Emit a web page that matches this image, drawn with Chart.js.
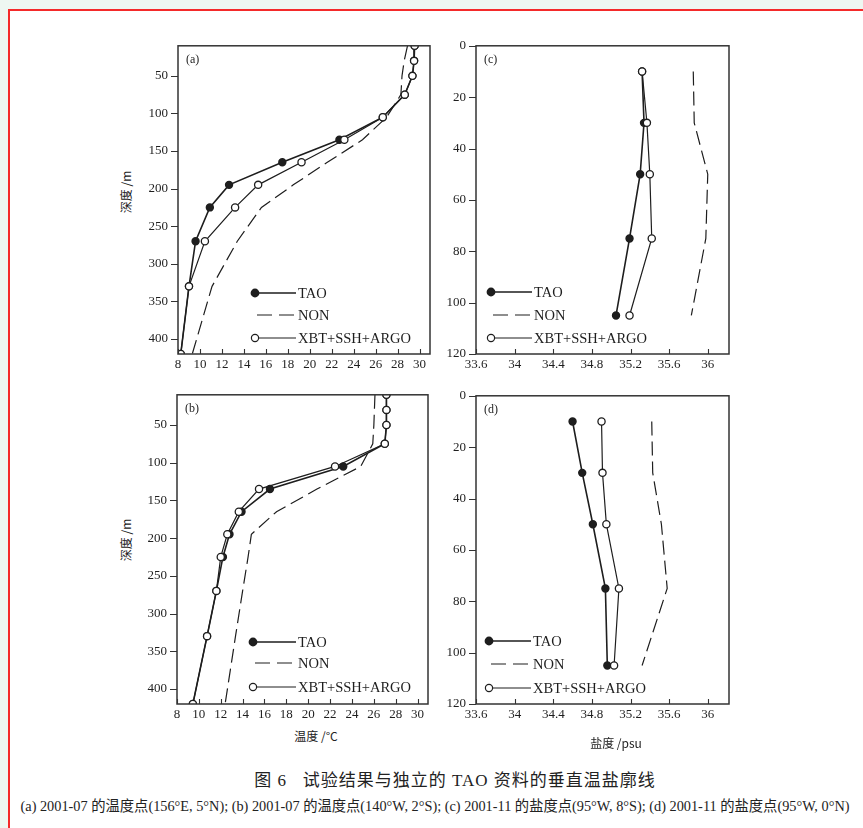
<!DOCTYPE html>
<html>
<head>
<meta charset="utf-8">
<script src="https://cdn.jsdelivr.net/npm/chart.js@4.4.1/dist/chart.umd.min.js"></script>
<style>
  body { margin:0; width:863px; height:828px; overflow:hidden; position:relative; background:#eef7f1;
         font-family:"Liberation Serif","Noto Sans CJK SC",serif; color:#222; }
  .page { position:absolute; left:8px; top:9px; width:900px; height:900px; background:#fff;
          border-left:2px solid #f42a2a; border-top:2px solid #f42a2a; }
  canvas { position:absolute; }
  .t { position:absolute; white-space:nowrap; }
  .ytitle { font-family:"Noto Sans CJK SC",sans-serif; font-size:12px; transform:translate(-50%,-50%) rotate(-90deg); }
  .xtitle { font-family:"Noto Sans CJK SC",sans-serif; font-size:12px; transform:translate(-50%,-50%); }
  .cap1 { left:455px; top:778px; transform:translate(-50%,-50%); font-size:17px; letter-spacing:1px; }
  .cap2 { left:435px; top:804px; transform:translate(-50%,-50%); font-size:14.3px; }
</style>
</head>
<body>
<div class="page"></div>
<canvas id="ca" width="302" height="348" style="left:138px;top:28px"></canvas>
<canvas id="cc" width="303" height="348" style="left:436px;top:28px"></canvas>
<canvas id="cb" width="301" height="349" style="left:137px;top:377px"></canvas>
<canvas id="cd" width="303" height="348" style="left:436px;top:378px"></canvas>

<div class="t ytitle" style="left:125px;top:192px">深度 /m</div>
<div class="t ytitle" style="left:125px;top:540px">深度 /m</div>
<div class="t xtitle" style="left:316px;top:735px">温度 /°C</div>
<div class="t xtitle" style="left:616px;top:742px">盐度 /psu</div>
<div class="t cap1">图 6&nbsp;&nbsp;&nbsp;试验结果与独立的 TAO 资料的垂直温盐廓线</div>
<div class="t cap2">(a) 2001-07 的温度点(156°E, 5°N); (b) 2001-07 的温度点(140°W, 2°S); (c) 2001-11 的盐度点(95°W, 8°S); (d) 2001-11 的盐度点(95°W, 0°N)</div>

<script>
// depth levels (m)
const depthT = [10, 30, 50, 75, 105, 135, 165, 195, 225, 270, 330, 420];
const depthS = [10, 30, 50, 75, 105];

// (a) temperature, 156E 5N
const taoA = [29.55, 29.5, 29.35, 28.65, 26.65, 22.7, 17.5, 12.65, 10.9, 9.6, 9.0, 8.25];
const nonA = [28.9, 28.6, 28.4, 28.3, 27.0, 24.8, 21.6, 18.5, 15.6, 13.4, 11.1, 9.3];
const xbtA = [29.55, 29.5, 29.35, 28.65, 26.65, 23.15, 19.25, 15.3, 13.2, 10.45, 9.0, 8.25];

// (b) temperature, 140W 2S
const taoB = [27.15, 27.15, 27.15, 27.0, 23.2, 16.5, 13.9, 12.8, 12.2, 11.6, 10.75, 9.45];
const nonB = [26.1, 26.05, 26.0, 25.9, 24.8, 20.8, 17.1, 14.8, 14.5, 14.0, 13.35, 12.4];
const xbtB = [27.15, 27.15, 27.15, 27.0, 22.45, 15.5, 13.65, 12.6, 12.0, 11.6, 10.75, 9.45];

// (c) salinity, 95W 8S
const taoC = [35.32, 35.34, 35.30, 35.19, 35.05];
const nonC = [35.85, 35.86, 36.0, 35.98, 35.83];
const xbtC = [35.32, 35.37, 35.40, 35.42, 35.19];

// (d) salinity, 95W 0N
const taoD = [34.60, 34.70, 34.81, 34.94, 34.96];
const nonD = [35.42, 35.43, 35.52, 35.58, 35.32];
const xbtD = [34.90, 34.91, 34.95, 35.08, 35.03];

// ticks
const tempTicks = [8, 10, 12, 14, 16, 18, 20, 22, 24, 26, 28, 30];
const tempLabels = ["8", "10", "12", "14", "16", "18", "20", "22", "24", "26", "28", "30"];
const saltTicks = [33.6, 34, 34.4, 34.8, 35.2, 35.6, 36];
const saltLabels = ["33.6", "34", "34.4", "34.8", "35.2", "35.6", "36"];
const depthTicksT = [50, 100, 150, 200, 250, 300, 350, 400];
const depthLabelsT = ["50", "100", "150", "200", "250", "300", "350", "400"];
const depthTicksS = [0, 20, 40, 60, 80, 100, 120];
const depthLabelsS = ["0", "20", "40", "60", "80", "100", "120"];

const seriesNames = ["TAO", "NON", "XBT+SSH+ARGO"];
const ink = "#1e1e1e";
const tickFont = { family: "Liberation Serif", size: 13 };

function pts(xs, ds) {
  return xs.map((v, i) => ({ x: v, y: ds[i] }));
}

// frame, ticks, panel tag, legend
const framePlugin = {
  id: "frame",
  afterDraw(chart, args, o) {
    const ctx = chart.ctx, a = chart.chartArea;
    const xs = chart.scales.x, ys = chart.scales.y;
    ctx.save();
    ctx.strokeStyle = "#333";
    ctx.lineWidth = 1.5;
    ctx.strokeRect(a.left, a.top, a.right - a.left, a.bottom - a.top);
    ctx.lineWidth = 1.1;
    ctx.beginPath();
    xs.ticks.forEach(t => {
      const px = Math.round(xs.getPixelForValue(t.value)) + 0.5;
      ctx.moveTo(px, a.bottom); ctx.lineTo(px, a.bottom - 5);
    });
    ys.ticks.forEach(t => {
      const py = Math.round(ys.getPixelForValue(t.value)) + 0.5;
      ctx.moveTo(a.left, py); ctx.lineTo(a.left - 7, py);
    });
    ctx.stroke();

    ctx.fillStyle = ink;
    ctx.font = "12px 'Liberation Serif'";
    ctx.textBaseline = "middle";
    ctx.fillText(o.tag, a.left + 8, a.top + 14);

    // legend
    const mx = a.left + o.mx, lx = a.left + o.tx - 2;
    ctx.font = "14.5px 'Liberation Serif'";
    seriesNames.forEach((name, i) => {
      const y = a.bottom + o.rows[i];
      ctx.strokeStyle = ink;
      ctx.lineWidth = i === 0 ? 1.6 : 1.2;
      ctx.setLineDash(i === 1 ? [15, 7] : []);
      ctx.beginPath();
      ctx.moveTo(i === 1 ? mx + 2 : mx, y); ctx.lineTo(lx, y);
      ctx.stroke();
      ctx.setLineDash([]);
      if (i !== 1) {
        ctx.beginPath();
        ctx.arc(mx, y, 3.6, 0, Math.PI * 2);
        ctx.fillStyle = i === 0 ? ink : "#fff";
        ctx.fill();
        ctx.stroke();
      }
      ctx.fillStyle = ink;
      ctx.fillText(name, a.left + o.tx, y + 1);
    });
    ctx.restore();
  }
};

function makePanel(id, tao, non, xbt, depths, xr, xt, xl, yr, yt, yl, leg) {
  new Chart(document.getElementById(id), {
    type: "scatter",
    data: {
      datasets: [
        { label: seriesNames[2], data: pts(xbt, depths), showLine: true, order: 0,
          borderColor: ink, borderWidth: 1.2, pointRadius: 3.6, pointBorderWidth: 1.3,
          pointBackgroundColor: "#fff", pointBorderColor: ink },
        { label: seriesNames[0], data: pts(tao, depths), showLine: true, order: 1,
          borderColor: ink, borderWidth: 1.6, pointRadius: 3.4,
          pointBackgroundColor: ink, pointBorderColor: ink },
        { label: seriesNames[1], data: pts(non, depths), showLine: true, order: 2,
          borderColor: ink, borderWidth: 1.2, borderDash: [14, 6], pointRadius: 0 }
      ]
    },
    options: {
      responsive: false,
      animation: false,
      events: [],
      layout: { padding: { left: 0, right: 10, top: 10, bottom: 0 }, autoPadding: false },
      plugins: { legend: { display: false }, tooltip: { enabled: false }, frame: leg },
      scales: {
        x: {
          type: "linear", min: xr[0], max: xr[1],
          afterBuildTicks: s => { s.ticks = xt.map(v => ({ value: v })); },
          afterFit: s => { s.height = 22; },
          grid: { display: false, drawTicks: false }, border: { display: false },
          ticks: { font: tickFont, color: ink, padding: 3, maxRotation: 0, autoSkip: false,
                   callback: (v, i) => xl[i] }
        },
        y: {
          type: "linear", reverse: true, min: yr[0], max: yr[1],
          afterBuildTicks: s => { s.ticks = yt.map(v => ({ value: v })); },
          afterFit: s => { s.width = 40; },
          grid: { display: false, drawTicks: false }, border: { display: false },
          ticks: { font: tickFont, color: ink, padding: 10, autoSkip: false,
                   callback: (v, i) => yl[i] }
        }
      }
    },
    plugins: [framePlugin]
  });
}

makePanel("ca", taoA, nonA, xbtA, depthT, [8, 30.95], tempTicks, tempLabels, [10, 420], depthTicksT, depthLabelsT,
  { tag: "(a)", mx: 77, tx: 120, rows: [-61, -39, -16] });
makePanel("cb", taoB, nonB, xbtB, depthT, [8, 30.95], tempTicks, tempLabels, [10, 420], depthTicksT, depthLabelsT,
  { tag: "(b)", mx: 76, tx: 121, rows: [-62, -41, -17] });
makePanel("cc", taoC, nonC, xbtC, depthS, [33.6, 36.22], saltTicks, saltLabels, [0, 120], depthTicksS, depthLabelsS,
  { tag: "(c)", mx: 15, tx: 58, rows: [-62, -39, -16] });
makePanel("cd", taoD, nonD, xbtD, depthS, [33.6, 36.22], saltTicks, saltLabels, [0, 120], depthTicksS, depthLabelsS,
  { tag: "(d)", mx: 13, tx: 57, rows: [-63, -40, -16] });
</script>
</body>
</html>
